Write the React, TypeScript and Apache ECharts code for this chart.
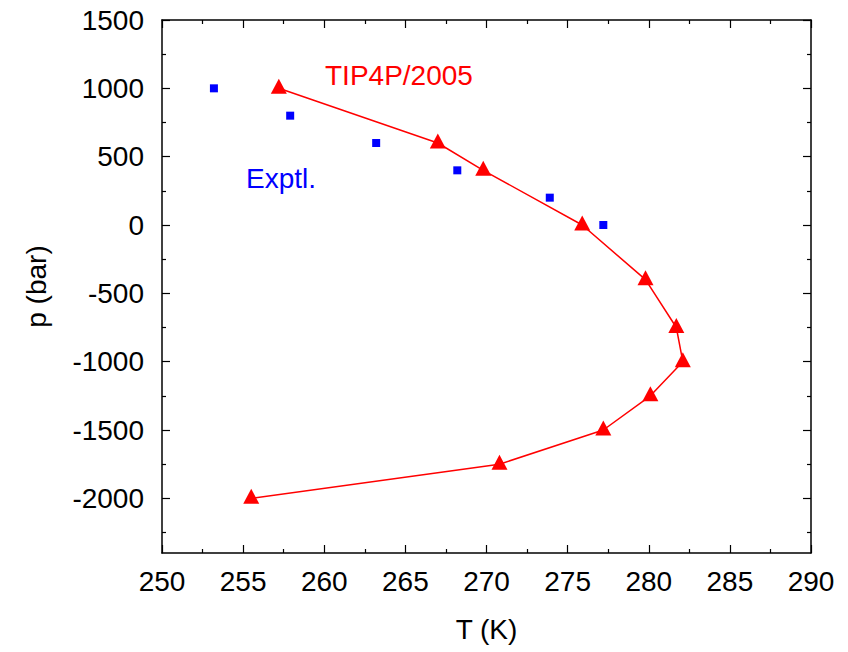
import { useEffect, useRef } from "react";
import * as echarts from "echarts";

// TIP4P/2005 simulation: temperature of maximum density vs pressure
const tip4pT = [257.2, 267.0, 269.8, 275.9, 279.8, 281.7, 282.1, 280.1, 277.2, 270.8, 255.5];
const tip4pP = [1000, 600, 400, 0, -400, -750, -1000, -1250, -1500, -1750, -2000];

// Experimental points
const exptT = [253.2, 257.9, 263.2, 268.2, 273.9, 277.2];
const exptP = [1000, 800, 600, 400, 200, 0];

// Axis ranges and ticks
const T_MIN = 250;
const T_MAX = 290;
const T_STEP = 5;
const P_MIN = -2400;
const P_MAX = 1500;
const pMajorTicks = [-2000, -1500, -1000, -500, 0, 500, 1000, 1500];
const pMinorTicks = [-2250, -1750, -1250, -750, -250, 250, 750, 1250];

const FONT = "'Liberation Sans', Arial, Helvetica, sans-serif";
const INK = "#000000";

export default function App() {
  const ref = useRef<HTMLDivElement>(null);

  useEffect(() => {
    if (!ref.current) return;
    const chart = echarts.init(ref.current, null, { renderer: "svg" });

    const frameLine = { show: true, onZero: false, lineStyle: { color: INK, width: 1.5 } };

    const xBase = {
      type: "value" as const,
      min: T_MIN,
      max: T_MAX,
      interval: T_STEP,
      splitLine: { show: false },
      axisLine: frameLine,
      axisTick: { show: true, inside: true, length: 8, lineStyle: { color: INK, width: 1.2 } },
      minorTick: { show: true, splitNumber: 2, length: 4, lineStyle: { color: INK, width: 1.2 } },
      minorSplitLine: { show: false },
    };

    const yMajor = (position: "left" | "right", labels: boolean) => ({
      type: "value" as const,
      position,
      min: P_MIN,
      max: P_MAX,
      splitLine: { show: false },
      axisLine: frameLine,
      axisTick: {
        show: true,
        inside: true,
        length: 8,
        customValues: pMajorTicks,
        lineStyle: { color: INK, width: 1.2 },
      },
      axisLabel: labels
        ? {
            show: true,
            customValues: pMajorTicks,
            formatter: (v: number) => String(v),
            color: INK,
            fontSize: 28,
            fontFamily: FONT,
            margin: 18,
          }
        : { show: false },
    });

    const yMinor = (position: "left" | "right") => ({
      type: "value" as const,
      position,
      min: P_MIN,
      max: P_MAX,
      splitLine: { show: false },
      axisLine: { show: false, onZero: false },
      axisTick: {
        show: true,
        inside: true,
        length: 4,
        customValues: pMinorTicks,
        lineStyle: { color: INK, width: 1.2 },
      },
      axisLabel: { show: false },
    });

    chart.setOption({
      animation: false,
      backgroundColor: "#ffffff",
      grid: { left: 162, right: 37, top: 20, bottom: 99, containLabel: false },
      xAxis: [
        {
          ...xBase,
          position: "bottom",
          name: "T (K)",
          nameLocation: "middle",
          nameGap: 62,
          nameTextStyle: { color: INK, fontSize: 28, fontFamily: FONT },
          axisLabel: {
            color: INK,
            fontSize: 28,
            fontFamily: FONT,
            margin: 14,
            formatter: (v: number) => String(v),
          },
        },
        {
          ...xBase,
          position: "top",
          axisLabel: { show: false },
        },
      ],
      yAxis: [
        {
          ...yMajor("left", true),
          name: "p (bar)",
          nameLocation: "middle",
          nameGap: 112,
          nameTextStyle: { color: INK, fontSize: 28, fontFamily: FONT },
        },
        yMinor("left"),
        yMajor("right", false),
        yMinor("right"),
      ],
      graphic: [
        {
          type: "text",
          x: 325,
          y: 75,
          style: {
            text: "TIP4P/2005",
            fill: "#ff0000",
            font: `28px ${FONT}`,
            verticalAlign: "middle",
          },
        },
        {
          type: "text",
          x: 246,
          y: 178,
          style: {
            text: "Exptl.",
            fill: "#0000ff",
            font: `28px ${FONT}`,
            verticalAlign: "middle",
          },
        },
      ],
      series: [
        {
          name: "TIP4P/2005",
          type: "line",
          xAxisIndex: 0,
          yAxisIndex: 0,
          data: tip4pT.map((t, i) => [t, tip4pP[i]]),
          symbol: "triangle",
          symbolSize: [16, 15],
          symbolOffset: [0, -2],
          lineStyle: { color: "#ff0000", width: 1.5 },
          itemStyle: { color: "#ff0000", opacity: 1 },
          z: 3,
        },
        {
          name: "Exptl.",
          type: "scatter",
          xAxisIndex: 0,
          yAxisIndex: 0,
          data: exptT.map((t, i) => [t, exptP[i]]),
          symbol: "rect",
          symbolSize: 8,
          itemStyle: { color: "#0000ff", opacity: 1 },
          z: 2,
        },
      ],
    });

    return () => chart.dispose();
  }, []);

  return (
    <div
      ref={ref}
      style={{ position: "absolute", left: 0, top: 0, width: 848, height: 652, background: "#fff" }}
    />
  );
}
